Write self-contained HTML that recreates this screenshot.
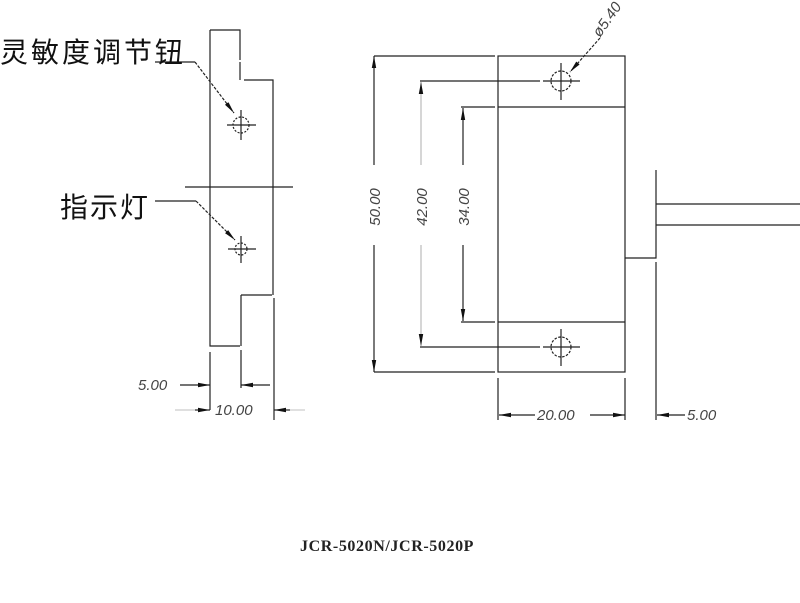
<!DOCTYPE html>
<html><head><meta charset="utf-8"><style>
html,body{margin:0;padding:0;background:#fff;}
svg{display:block;}
</style></head><body>
<svg width="800" height="603" viewBox="0 0 800 603" xmlns="http://www.w3.org/2000/svg">
<defs>
<marker id="ar" markerWidth="12" markerHeight="6" refX="12" refY="3" orient="auto" markerUnits="userSpaceOnUse">
<path d="M0,0.8 L12,3 L0,5.2 Z" fill="#111"/>
</marker>
</defs>
<rect width="800" height="603" fill="#fff"/>
<g stroke="#222" stroke-width="1.2" fill="none">
<!-- left side view -->
<path d="M210,30 H240 V60 M240,62 V80 M244,80 H273 V295 M274,298 V420"/>
<path d="M210,30 V346 H240 M241,350 V388 M241,295 V346 M241,295 H272"/>
<path d="M210,352 V410"/>
<line x1="185" y1="187" x2="293" y2="187"/>
<circle cx="241" cy="125" r="8" stroke-dasharray="2,1.5"/>
<line x1="227" y1="125" x2="256" y2="125"/><line x1="241" y1="110" x2="241" y2="140"/>
<circle cx="241" cy="249" r="6" stroke-dasharray="2,1.5"/>
<line x1="228" y1="249" x2="256" y2="249"/><line x1="241" y1="236" x2="241" y2="263"/>
<line x1="155" y1="62" x2="195" y2="62"/>
<line x1="195" y1="62" x2="234" y2="113" stroke-dasharray="3,1.5" marker-end="url(#ar)"/>
<line x1="155" y1="201" x2="196" y2="201"/>
<line x1="196" y1="201" x2="235" y2="240" stroke-dasharray="3,1.5" marker-end="url(#ar)"/>
<line x1="180" y1="385" x2="210" y2="385" marker-end="url(#ar)"/>
<line x1="270" y1="385" x2="241" y2="385" marker-end="url(#ar)"/>
<line x1="195" y1="410" x2="210" y2="410" marker-end="url(#ar)"/>
<line x1="290" y1="410" x2="274" y2="410" marker-end="url(#ar)"/>
<line x1="175" y1="410" x2="195" y2="410" stroke="#ccc"/>
<line x1="290" y1="410" x2="305" y2="410" stroke="#ccc"/>

<!-- front view -->
<rect x="498" y="56" width="127" height="316"/>
<line x1="498" y1="107" x2="625" y2="107"/>
<line x1="498" y1="322" x2="625" y2="322"/>
<circle cx="561" cy="81" r="10" stroke-dasharray="2.5,1.5"/>
<line x1="543" y1="81" x2="580" y2="81"/><line x1="561" y1="63" x2="561" y2="100"/>
<circle cx="561" cy="347" r="10" stroke-dasharray="2.5,1.5"/>
<line x1="543" y1="347" x2="580" y2="347"/><line x1="561" y1="329" x2="561" y2="366"/>
<line x1="600" y1="38" x2="570" y2="72" stroke-dasharray="3,1.5" marker-end="url(#ar)"/>
<!-- connector -->
<path d="M625,258 H656 V170 M656,262 V420 M656,204 H800 M656,225 H800"/>
<!-- dims -->
<line x1="374" y1="56" x2="495" y2="56"/>
<line x1="374" y1="372" x2="495" y2="372"/>
<line x1="374" y1="165" x2="374" y2="56" marker-end="url(#ar)"/>
<line x1="374" y1="245" x2="374" y2="372" marker-end="url(#ar)"/>
<line x1="420" y1="81" x2="540" y2="81"/>
<line x1="420" y1="347" x2="540" y2="347"/>
<line x1="421" y1="165" x2="421" y2="82" marker-end="url(#ar)" stroke="#bbb"/>
<line x1="421" y1="245" x2="421" y2="346" marker-end="url(#ar)" stroke="#bbb"/>
<line x1="461" y1="107" x2="495" y2="107"/>
<line x1="461" y1="322" x2="495" y2="322"/>
<line x1="463" y1="165" x2="463" y2="108" marker-end="url(#ar)"/>
<line x1="463" y1="245" x2="463" y2="321" marker-end="url(#ar)"/>
<line x1="498" y1="378" x2="498" y2="420"/>
<line x1="625" y1="378" x2="625" y2="420"/>
<line x1="535" y1="415" x2="499" y2="415" marker-end="url(#ar)"/>
<line x1="590" y1="415" x2="625" y2="415" marker-end="url(#ar)"/>
<line x1="685" y1="415" x2="657" y2="415" marker-end="url(#ar)"/>
</g>
<g font-family="Liberation Sans, sans-serif" font-style="italic" font-size="15" fill="#444">
<text x="138" y="390">5.00</text>
<text x="215" y="415">10.00</text>
<text x="537" y="420">20.00</text>
<text x="687" y="420">5.00</text>
<text transform="translate(380,207) rotate(-90)" text-anchor="middle">50.00</text>
<text transform="translate(427,207) rotate(-90)" text-anchor="middle">42.00</text>
<text transform="translate(469,207) rotate(-90)" text-anchor="middle">34.00</text>
<text transform="translate(600,38) rotate(-55)">ø5.40</text>
</g>
<g font-family="Liberation Sans, 'Noto Sans CJK SC', sans-serif" font-size="28" fill="#111">
<text x="0" y="62" letter-spacing="3">灵敏度调节钮</text>
<text x="60" y="217" letter-spacing="2">指示灯</text>
</g>
<text x="300" y="551" font-family="Liberation Serif, serif" font-weight="bold" font-size="16" letter-spacing="0.6" fill="#222">JCR-5020N/JCR-5020P</text>
</svg>
</body></html>
